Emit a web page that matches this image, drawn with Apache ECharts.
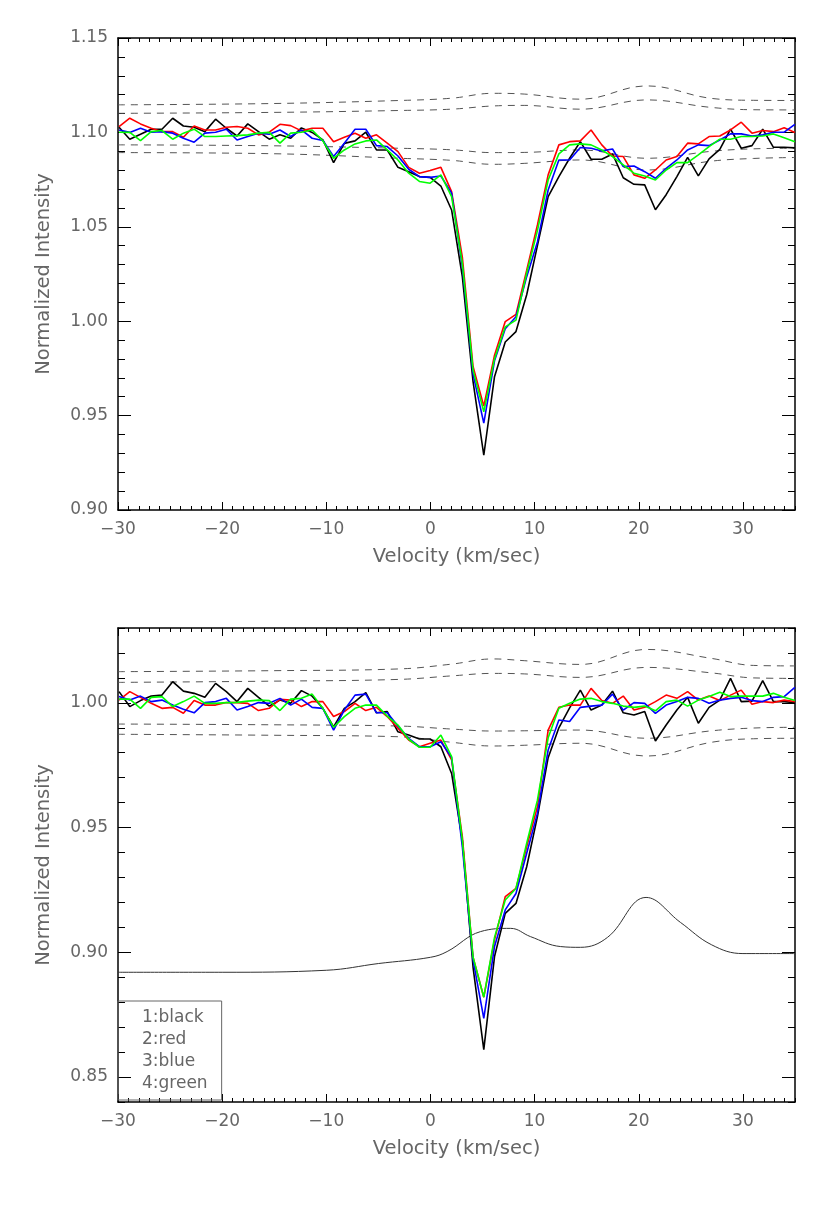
<!DOCTYPE html>
<html>
<head>
<meta charset="utf-8">
<script src="https://cdn.jsdelivr.net/npm/echarts@6.0.0/dist/echarts.min.js"></script>
<style>
  html, body { margin: 0; padding: 0; background: #fff; }
  #main { width: 830px; height: 1213px; }
</style>
</head>
<body>
<div id="main"></div>
<script>
// velocity grid (km/sec), shared by both panels
var velocity = [-29.90, -28.87, -27.84, -26.81, -25.78, -24.75, -23.72, -22.69, -21.66, -20.63,
    -19.60, -18.57, -17.54, -16.51, -15.48, -14.45, -13.42, -12.39, -11.36, -10.33,
    -9.30, -8.27, -7.24, -6.21, -5.18, -4.15, -3.12, -2.09, -1.06, -0.03,
    1.00, 2.03, 3.06, 4.09, 5.12, 6.15, 7.18, 8.21, 9.24, 10.27,
    11.30, 12.33, 13.36, 14.39, 15.42, 16.45, 17.48, 18.51, 19.54, 20.57,
    21.60, 22.63, 23.66, 24.69, 25.72, 26.75, 27.78, 28.81, 29.84, 30.87,
    31.90, 32.93, 33.96, 34.99];

// top panel profiles
var topBlack = [1.1027, 1.0964, 1.0990, 1.1017, 1.1017, 1.1075, 1.1034, 1.1027, 1.1004, 1.1070,
    1.1022, 1.0981, 1.1045, 1.1004, 1.0964, 1.0987, 1.0969, 1.1024, 1.1000, 1.0960,
    1.0840, 1.0942, 1.0955, 1.1001, 1.0907, 1.0907, 1.0815, 1.0792, 1.0766, 1.0762,
    1.0716, 1.0589, 1.0236, 0.9680, 0.9290, 0.9706, 0.9890, 0.9945, 1.0140, 1.0400,
    1.0660, 1.0766, 1.0863, 1.0951, 1.0858, 1.0858, 1.0886, 1.0760, 1.0725, 1.0722,
    1.0590, 1.0670, 1.0766, 1.0868, 1.0770, 1.0860, 1.0910, 1.1017, 1.0916, 1.0930,
    1.1017, 1.0921, 1.0921, 1.0918];
var topRed = [1.1031, 1.1075, 1.1045, 1.1022, 1.1004, 1.1004, 1.0974, 1.1034, 1.1013, 1.1013,
    1.1027, 1.1031, 1.1022, 1.0987, 1.1001, 1.1043, 1.1036, 1.1008, 1.1022, 1.1022,
    1.0951, 1.0974, 1.0996, 1.0969, 1.0987, 1.0943, 1.0898, 1.0815, 1.0784, 1.0798,
    1.0815, 1.0686, 1.0340, 0.9760, 0.9550, 0.9820, 0.9998, 1.0036, 1.0270, 1.0510,
    1.0775, 1.0934, 1.0951, 1.0955, 1.1013, 1.0934, 1.0875, 1.0872, 1.0775, 1.0757,
    1.0801, 1.0854, 1.0872, 1.0943, 1.0939, 1.0978, 1.0981, 1.1013, 1.1054, 1.0996,
    1.1010, 1.1004, 1.1025, 1.0999];
var topBlue = [1.1013, 1.1000, 1.1022, 1.1001, 1.1004, 1.0996, 1.0969, 1.0948, 1.0996, 1.1001,
    1.1017, 1.0960, 1.0978, 1.0996, 1.0990, 1.1013, 1.0978, 1.1013, 1.0969, 1.0957,
    1.0872, 1.0943, 1.1017, 1.1017, 1.0930, 1.0925, 1.0875, 1.0805, 1.0766, 1.0762,
    1.0769, 1.0678, 1.0290, 0.9720, 0.9460, 0.9790, 0.9960, 1.0024, 1.0236, 1.0420,
    1.0695, 1.0854, 1.0854, 1.0920, 1.0916, 1.0902, 1.0912, 1.0819, 1.0822, 1.0792,
    1.0757, 1.0810, 1.0854, 1.0907, 1.0934, 1.0930, 1.0960, 1.0992, 1.0992, 1.0981,
    1.0987, 1.1001, 1.1001, 1.1043];
var topGreen = [1.1001, 1.1000, 1.0957, 1.1004, 1.1010, 1.0964, 1.0996, 1.1017, 1.0978, 1.0978,
    1.0981, 1.0983, 1.0987, 1.0996, 1.1000, 1.0943, 1.0996, 1.1001, 1.1013, 1.0955,
    1.0863, 1.0907, 1.0939, 1.0955, 1.0960, 1.0907, 1.0854, 1.0784, 1.0740, 1.0731,
    1.0775, 1.0660, 1.0306, 0.9740, 0.9520, 0.9800, 0.9970, 1.0006, 1.0254, 1.0480,
    1.0748, 1.0886, 1.0934, 1.0939, 1.0934, 1.0907, 1.0872, 1.0828, 1.0784, 1.0769,
    1.0748, 1.0801, 1.0840, 1.0840, 1.0881, 1.0925, 1.0964, 1.0964, 1.0978, 1.0978,
    1.0981, 1.0992, 1.0972, 1.0951];

// bottom panel profiles
var botBlack = [1.0045, 0.9985, 1.0009, 1.0027, 1.0031, 1.0085, 1.0047, 1.0038, 1.0022, 1.0078,
    1.0045, 1.0005, 1.0058, 1.0022, 0.9987, 1.0011, 0.9998, 1.0049, 1.0027, 0.9978,
    0.9904, 0.9978, 1.0005, 1.0041, 0.9960, 0.9965, 0.9884, 0.9871, 0.9855, 0.9855,
    0.9824, 0.9717, 0.9450, 0.8940, 0.8610, 0.8983, 0.9156, 0.9196, 0.9343, 0.9544,
    0.9780, 0.9900, 0.9980, 1.0051, 0.9971, 0.9991, 1.0047, 0.9960, 0.9951, 0.9965,
    0.9847, 0.9911, 0.9971, 1.0022, 0.9918, 0.9982, 1.0011, 1.0098, 1.0005, 1.0007,
    1.0089, 1.0005, 1.0005, 1.0001];
var botRed = [1.0011, 1.0045, 1.0022, 0.9998, 0.9978, 0.9982, 0.9958, 1.0009, 0.9991, 0.9991,
    1.0001, 1.0001, 0.9998, 0.9969, 0.9978, 1.0014, 1.0011, 0.9985, 1.0005, 1.0005,
    0.9945, 0.9965, 0.9998, 0.9969, 0.9982, 0.9945, 0.9898, 0.9851, 0.9824, 0.9838,
    0.9851, 0.9771, 0.9464, 0.8980, 0.8820, 0.9050, 0.9223, 0.9256, 0.9423, 0.9584,
    0.9891, 0.9982, 0.9991, 0.9991, 1.0058, 1.0009, 0.9998, 1.0027, 0.9971, 0.9982,
    1.0005, 1.0031, 1.0018, 1.0045, 1.0011, 1.0027, 1.0009, 1.0031, 1.0051, 0.9994,
    1.0005, 1.0001, 1.0011, 1.0005];
var botBlue = [1.0025, 1.0011, 1.0027, 1.0005, 1.0011, 0.9991, 0.9974, 0.9960, 1.0001, 1.0005,
    1.0018, 0.9971, 0.9985, 1.0001, 0.9998, 1.0018, 0.9991, 1.0015, 0.9982, 0.9978,
    0.9891, 0.9971, 1.0031, 1.0035, 0.9960, 0.9960, 0.9907, 0.9858, 0.9824, 0.9824,
    0.9844, 0.9781, 0.9423, 0.8970, 0.8735, 0.9023, 0.9170, 0.9236, 0.9397, 0.9557,
    0.9811, 0.9931, 0.9925, 0.9982, 0.9987, 0.9991, 1.0035, 0.9971, 1.0001, 0.9998,
    0.9958, 0.9991, 1.0005, 1.0022, 1.0018, 0.9998, 1.0011, 1.0018, 1.0022, 1.0009,
    1.0005, 1.0022, 1.0025, 1.0062];
var botGreen = [1.0015, 1.0015, 0.9978, 1.0022, 1.0025, 0.9985, 1.0005, 1.0027, 0.9998, 0.9998,
    1.0001, 1.0002, 1.0007, 1.0011, 1.0009, 0.9969, 1.0015, 1.0018, 1.0035, 0.9978,
    0.9902, 0.9945, 0.9978, 0.9991, 0.9991, 0.9947, 0.9911, 0.9854, 0.9822, 0.9822,
    0.9871, 0.9784, 0.9450, 0.8980, 0.8820, 0.9060, 0.9210, 0.9256, 0.9437, 0.9610,
    0.9860, 0.9978, 0.9998, 1.0015, 1.0018, 1.0005, 0.9998, 0.9987, 0.9982, 0.9987,
    0.9968, 1.0005, 1.0011, 0.9987, 1.0011, 1.0025, 1.0042, 1.0025, 1.0027, 1.0027,
    1.0027, 1.0038, 1.0022, 1.0009];

// dashed envelope curves
var dashVel = [-30, -15, -3, 2, 6, 9, 14.4, 20.8, 27, 31, 35];
var topDashA = [1.1146, 1.1153, 1.1169, 1.1181, 1.1207, 1.1203, 1.1176, 1.1246, 1.1180, 1.1170, 1.1169];
var topDashB = [1.1101, 1.1106, 1.1116, 1.1123, 1.1140, 1.1143, 1.1123, 1.1172, 1.1132, 1.1120, 1.1119];
var topDashC = [1.0934, 1.0929, 1.0916, 1.0908, 1.0893, 1.0894, 1.0907, 1.0863, 1.0900, 1.0913, 1.0916];
var topDashD = [1.0893, 1.0887, 1.0863, 1.0852, 1.0831, 1.0836, 1.0854, 1.0801, 1.0848, 1.0862, 1.0867];
var botDashA = [1.0125, 1.0129, 1.0136, 1.0155, 1.0176, 1.0169, 1.0154, 1.0214, 1.0178, 1.0150, 1.0148];
var botDashB = [1.0082, 1.0087, 1.0094, 1.0108, 1.0118, 1.0116, 1.0102, 1.0142, 1.0120, 1.0100, 1.0098];
var botDashC = [0.9915, 0.9912, 0.9907, 0.9895, 0.9887, 0.9888, 0.9891, 0.9858, 0.9888, 0.9899, 0.9902];
var botDashD = [0.9874, 0.9870, 0.9864, 0.9842, 0.9827, 0.9830, 0.9838, 0.9787, 0.9842, 0.9856, 0.9858];

// thin solid curve in bottom panel
var modelVel = [-30, -20, -10, -5, 0, 1.6, 4.8, 7.7, 9.6, 12.5, 14.4, 17, 20.7, 24, 27, 30, 35];
var modelVals = [0.8920, 0.8920, 0.8928, 0.8955, 0.8980, 0.9003, 0.9083, 0.9096, 0.9063, 0.9023,
    0.9020, 0.9060, 0.9220, 0.9120, 0.9030, 0.8995, 0.8995];

// tick values
var xMajor = [-30, -20, -10, 0, 10, 20, 30];
var topYMajor = [0.90, 0.95, 1.00, 1.05, 1.10, 1.15];
var botYMajor = [0.85, 0.90, 0.95, 1.00];
var legendNames = ['1:black', '2:red', '3:blue', '4:green'];

var xMinor = [];
for (var k = -30; k <= 35; k++) {
    if (k % 10 != 0) xMinor.push(k);
}
var topYMinor = [];
for (var k = 90; k <= 115; k++) {
    if (k % 5 != 0) topYMinor.push(k / 100);
}
var botYMinor = [];
for (var k = 84; k <= 103; k++) {
    if (k % 5 != 0) botYMinor.push(k / 100);
}

var font = 'DejaVu Sans';
var txtColor = '#666';
var frame = { show: true, onZero: false, lineStyle: { color: '#000', width: 1.5 } };
var noLine = { show: false, onZero: false };

function pairs(xs, ys) {
    return xs.map(function(x, i) { return [x, ys[i]]; });
}

// four x axes per grid: bottom major (labels), bottom minor, top major, top minor
function xAxesFor(g) {
    var base = { type: 'value', gridIndex: g, min: -30, max: 35, splitLine: { show: false }, axisPointer: { show: false } };
    return [
        Object.assign({}, base, {
            position: 'bottom', axisLine: frame,
            axisTick: { inside: true, length: 8, customValues: xMajor, lineStyle: { color: '#000', width: 1 } },
            axisLabel: { customValues: xMajor, margin: 11, color: txtColor, fontFamily: font, fontSize: 17,
                formatter: function(v) { return String(v).replace('-', '\u2212'); } },
            name: 'Velocity (km/sec)', nameLocation: 'middle', nameGap: 37,
            nameTextStyle: { color: txtColor, fontFamily: font, fontSize: 19.5 }
        }),
        Object.assign({}, base, {
            position: 'bottom', axisLine: noLine,
            axisTick: { inside: true, length: 4, customValues: xMinor, lineStyle: { color: '#000', width: 1 } },
            axisLabel: { show: false }
        }),
        Object.assign({}, base, {
            position: 'top', axisLine: frame,
            axisTick: { inside: true, length: 8, customValues: xMajor, lineStyle: { color: '#000', width: 1 } },
            axisLabel: { show: false }
        }),
        Object.assign({}, base, {
            position: 'top', axisLine: noLine,
            axisTick: { inside: true, length: 4, customValues: xMinor, lineStyle: { color: '#000', width: 1 } },
            axisLabel: { show: false }
        })
    ];
}

function yAxesFor(g, mn, mx, major, minor) {
    var base = { type: 'value', gridIndex: g, min: mn, max: mx, splitLine: { show: false }, axisPointer: { show: false } };
    return [
        Object.assign({}, base, {
            position: 'left', axisLine: frame,
            axisTick: { inside: true, length: 13, customValues: major, lineStyle: { color: '#000', width: 1 } },
            axisLabel: { customValues: major, margin: 10, color: txtColor, fontFamily: font, fontSize: 17,
                formatter: function(v) { return v.toFixed(2); } },
            name: 'Normalized Intensity', nameLocation: 'middle', nameGap: 64,
            nameTextStyle: { color: txtColor, fontFamily: font, fontSize: 19.5 }
        }),
        Object.assign({}, base, {
            position: 'left', axisLine: noLine,
            axisTick: { inside: true, length: 7, customValues: minor, lineStyle: { color: '#000', width: 1 } },
            axisLabel: { show: false }
        }),
        Object.assign({}, base, {
            position: 'right', axisLine: frame,
            axisTick: { inside: true, length: 13, customValues: major, lineStyle: { color: '#000', width: 1 } },
            axisLabel: { show: false }
        }),
        Object.assign({}, base, {
            position: 'right', axisLine: noLine,
            axisTick: { inside: true, length: 7, customValues: minor, lineStyle: { color: '#000', width: 1 } },
            axisLabel: { show: false }
        })
    ];
}

function dashed(xIdx, yIdx, ys) {
    return {
        type: 'line', xAxisIndex: xIdx, yAxisIndex: yIdx, data: pairs(dashVel, ys),
        smooth: 0.4, symbol: 'none', silent: true,
        lineStyle: { color: '#555', width: 1, type: [7, 6] }
    };
}

function profile(xIdx, yIdx, name, color, ys) {
    return {
        name: name, type: 'line', xAxisIndex: xIdx, yAxisIndex: yIdx, data: pairs(velocity, ys),
        symbol: 'none', clip: true, lineStyle: { color: color, width: 1.6 }, itemStyle: { color: color }
    };
}

var myChart = echarts.init(document.getElementById('main'), null, { renderer: 'canvas' });

var option = {
    animation: false,
    backgroundColor: '#fff',
    grid: [
        { left: 118, top: 38, width: 677, height: 472 },
        { left: 118, top: 628, width: 677, height: 474 }
    ],
    xAxis: xAxesFor(0).concat(xAxesFor(1)),
    yAxis: yAxesFor(0, 0.90, 1.15, topYMajor, topYMinor).concat(yAxesFor(1, 0.84, 1.03, botYMajor, botYMinor)),
    legend: {
        data: legendNames.map(function(n) { return { name: n, icon: 'none' }; }),
        left: 118, top: 1001, orient: 'vertical',
        itemWidth: 0, itemHeight: 17, itemGap: 5,
        padding: [8, 14, 8, 19],
        borderColor: '#666', borderWidth: 1,
        selectedMode: false,
        textStyle: { color: txtColor, fontFamily: font, fontSize: 17, lineHeight: 17 }
    },
    series: [
        dashed(0, 0, topDashA), dashed(0, 0, topDashB), dashed(0, 0, topDashC), dashed(0, 0, topDashD),
        profile(0, 0, '1:black', '#000', topBlack),
        profile(0, 0, '2:red', '#ff0000', topRed),
        profile(0, 0, '3:blue', '#0000ff', topBlue),
        profile(0, 0, '4:green', '#00ff00', topGreen),

        dashed(4, 4, botDashA), dashed(4, 4, botDashB), dashed(4, 4, botDashC), dashed(4, 4, botDashD),
        {
            type: 'line', xAxisIndex: 4, yAxisIndex: 4, data: pairs(modelVel, modelVals),
            smooth: 0.4, symbol: 'none', silent: true, lineStyle: { color: '#333', width: 1 }
        },
        profile(4, 4, '1:black', '#000', botBlack),
        profile(4, 4, '2:red', '#ff0000', botRed),
        profile(4, 4, '3:blue', '#0000ff', botBlue),
        profile(4, 4, '4:green', '#00ff00', botGreen)
    ]
};

myChart.setOption(option);
</script>
</body>
</html>
